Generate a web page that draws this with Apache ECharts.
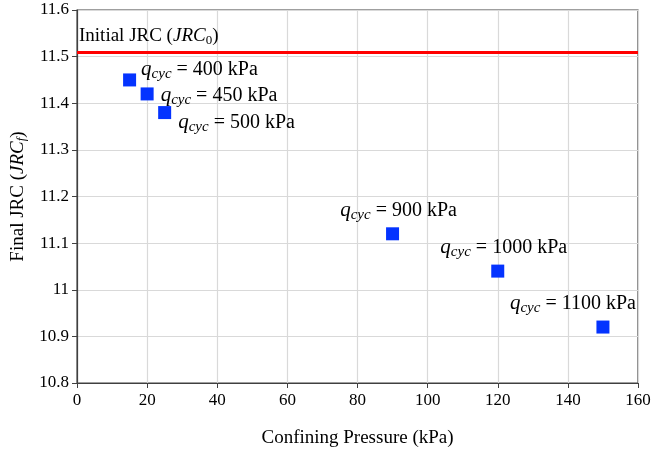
<!DOCTYPE html>
<html><head><meta charset="utf-8">
<script src="https://cdn.jsdelivr.net/npm/echarts@6/dist/echarts.min.js"></script>
<style>html,body{margin:0;padding:0;background:#fff}#c{width:652px;height:451px}</style>
</head><body><div id="c"></div>
<script>
var confining = [15, 20, 25, 90, 120, 150];
var finalJRC = [11.45, 11.42, 11.38, 11.12, 11.04, 10.92];
var qcyc = [400, 450, 500, 900, 1000, 1100];
var initialJRC = 11.51;
var xTicks = [0, 160, 20];
var yTicks = [10.8, 11.6, 0.1];

var labelPos = [
  {position: 'right', offset: [0, -10]},
  {position: 'right', offset: [2, 2]},
  {position: 'right', offset: [2, 10]},
  {position: 'top', offset: [6, 0]},
  {position: 'top', offset: [6, 0]},
  {position: 'top', offset: [-30, 0]}
];
var F = '"Liberation Serif", "Times New Roman", serif';
var rich = {
  q: {fontFamily: F, fontStyle: 'italic', fontSize: 21, color: '#000'},
  s: {fontFamily: F, fontStyle: 'italic', fontSize: 15, color: '#000', padding: [9, 0, 0, 0]},
  t: {fontFamily: F, fontSize: 20, color: '#000'}
};
var data = confining.map(function (x, i) {
  return {value: [x, finalJRC[i]], label: Object.assign({show: true}, labelPos[i])};
});
var chart = echarts.init(document.getElementById('c'));
chart.setOption({
  animation: false,
  grid: {left: 77, right: 14, top: 10, bottom: 68, containLabel: false, outerBoundsMode: 'none',
    show: true, borderColor: '#404040', borderWidth: 1.2},
  xAxis: {
    type: 'value', min: xTicks[0], max: xTicks[1], interval: xTicks[2],
    name: 'Confining Pressure (kPa)', nameLocation: 'middle', nameGap: 46,
    nameTextStyle: {fontFamily: F, fontSize: 19, color: '#000'},
    axisLine: {lineStyle: {color: '#404040', width: 1.2}},
    axisTick: {show: true, length: 5, inside: false, lineStyle: {color: '#404040'}},
    axisLabel: {fontFamily: F, fontSize: 17, color: '#000', margin: 9},
    splitLine: {lineStyle: {color: '#d9d9d9', width: 1.2}}
  },
  yAxis: {
    type: 'value', min: yTicks[0], max: yTicks[1], interval: yTicks[2],
    name: '{n|Final JRC (}{i|JRC}{f|f}{n|)}', nameLocation: 'middle', nameGap: 47, nameRotate: 90,
    nameTextStyle: {rich: {
      n: {fontFamily: F, fontSize: 19, color: '#000'},
      i: {fontFamily: F, fontStyle: 'italic', fontSize: 19, color: '#000'},
      f: {fontFamily: F, fontStyle: 'italic', fontSize: 13, color: '#000', padding: [8, 0, 0, 0]}
    }},
    axisLine: {lineStyle: {color: '#404040', width: 1.2}},
    axisTick: {show: true, length: 5, lineStyle: {color: '#404040'}},
    axisLabel: {fontFamily: F, fontSize: 17, color: '#000', margin: 8,
      formatter: function (v) { return String(Math.round(v * 10) / 10); }},
    splitLine: {lineStyle: {color: '#d9d9d9', width: 1.2}}
  },
  series: [{
    type: 'scatter',
    symbol: 'rect', symbolSize: 13,
    itemStyle: {color: '#0433ff', opacity: 1},
    data: data,
    label: {
      formatter: function (p) { return '{q|q}{s|cyc}{t| = ' + qcyc[p.dataIndex] + ' kPa}'; },
      rich: rich
    },
    markLine: {
      silent: true, symbol: 'none',
      lineStyle: {color: '#ff0000', width: 3, type: 'solid'},
      data: [{yAxis: initialJRC}],
      label: {
        show: true, position: 'insideStartTop', distance: [2, 5],
        formatter: '{n|Initial JRC (}{i|JRC}{z|0}{n|)}',
        rich: {
          n: {fontFamily: F, fontSize: 19, color: '#000'},
          i: {fontFamily: F, fontStyle: 'italic', fontSize: 19, color: '#000'},
          z: {fontFamily: F, fontSize: 13, color: '#000', padding: [8, 0, 0, 0]}
        }
      }
    }
  }]
});
</script></body></html>
